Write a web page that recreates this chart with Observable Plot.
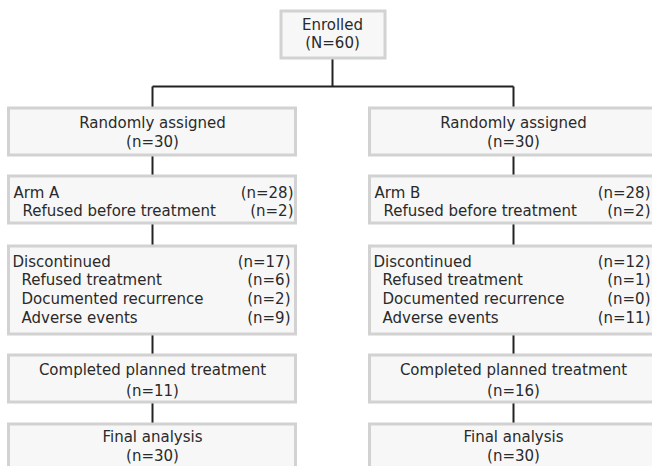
<!DOCTYPE html>
<html>
<head>
<meta charset="utf-8">
<script src="https://cdn.jsdelivr.net/npm/d3@7"></script>
<script src="https://cdn.jsdelivr.net/npm/@observablehq/plot@0.6"></script>
<style>
  html, body { margin: 0; padding: 0; background: #fff; }
  #chart svg { display: block; }
</style>
</head>
<body>
<div id="chart"></div>
<script>
// ---- Data ----
const enrolledN = 60;
const arms = ["A", "B"];
const randomized = [30, 30];
const armN = [28, 28];
const refusedBefore = [2, 2];
const discontinued = [17, 12];
const refusedTreatment = [6, 1];
const recurrence = [2, 0];
const adverse = [9, 11];
const completed = [11, 16];
const finalAnalysis = [30, 30];

// ---- Layout (diagram geometry, pixel units of a 652x466 canvas) ----
const W = 652, H = 466;
const colCenter = [152, 513];
const halfW = 143.5;
const rows = {
  enrolled: [11, 58],
  random: [108, 155],
  arm: [176, 223],
  disc: [246, 334],
  completed: [355, 402],
  final: [424, 480]
};
const branchY = 86;
const enrolledX = [281, 385];
const enrolledCx = 332;
// right edge of the right-aligned counts in each column (second column is cut by the frame)
const countRight = [[293, 290], [650, 650]];

// Boxes
const boxes = [{x1: enrolledX[0], x2: enrolledX[1], y1: rows.enrolled[0], y2: rows.enrolled[1]}];
arms.forEach((a, i) => {
  for (const k of ["random", "arm", "disc", "completed", "final"]) {
    boxes.push({x1: colCenter[i] - halfW, x2: colCenter[i] + halfW, y1: rows[k][0], y2: rows[k][1]});
  }
});

// Connectors
const links = [
  {x1: enrolledCx, y1: rows.enrolled[1], x2: enrolledCx, y2: branchY},
  {x1: colCenter[0], y1: branchY, x2: colCenter[1], y2: branchY}
];
arms.forEach((a, i) => {
  const c = colCenter[i];
  links.push({x1: c, y1: branchY, x2: c, y2: rows.random[0]});
  links.push({x1: c, y1: rows.random[1], x2: c, y2: rows.arm[0]});
  links.push({x1: c, y1: rows.arm[1], x2: c, y2: rows.disc[0]});
  links.push({x1: c, y1: rows.disc[1], x2: c, y2: rows.completed[0]});
  links.push({x1: c, y1: rows.completed[1], x2: c, y2: rows.final[0]});
});

// Centered labels
const centered = [
  {x: enrolledCx, y: 25, t: "Enrolled"},
  {x: enrolledCx, y: 43, t: `(N=${enrolledN})`}
];
// Left/right aligned rows
const leftText = [], rightText = [];
arms.forEach((a, i) => {
  const c = colCenter[i];
  centered.push({x: c, y: 123, t: "Randomly assigned"});
  centered.push({x: c, y: 142, t: `(n=${randomized[i]})`});
  centered.push({x: c, y: 370, t: "Completed planned treatment"});
  centered.push({x: c, y: 391, t: `(n=${completed[i]})`});
  centered.push({x: c, y: 437, t: "Final analysis"});
  centered.push({x: c, y: 456, t: `(n=${finalAnalysis[i]})`});

  const L0 = c - 139, L1 = c - 130;
  const [R0, R1] = countRight[i];
  leftText.push({x: L0, y: 193, t: `Arm ${a}`});
  rightText.push({x: R0, y: 193, t: `(n=${armN[i]})`});
  leftText.push({x: L1, y: 211, t: "Refused before treatment"});
  rightText.push({x: R0, y: 211, t: `(n=${refusedBefore[i]})`});

  leftText.push({x: L0 - 1, y: 262, t: "Discontinued"});
  rightText.push({x: R1, y: 262, t: `(n=${discontinued[i]})`});
  leftText.push({x: L1 - 1, y: 280, t: "Refused treatment"});
  rightText.push({x: R1, y: 280, t: `(n=${refusedTreatment[i]})`});
  leftText.push({x: L1 - 1, y: 299, t: "Documented recurrence"});
  rightText.push({x: R1, y: 299, t: `(n=${recurrence[i]})`});
  leftText.push({x: L1 - 1, y: 318, t: "Adverse events"});
  rightText.push({x: R1, y: 318, t: `(n=${adverse[i]})`});
});

const font = {fontFamily: "DejaVu Sans", fontSize: 15, fill: "#2a2a2a"};

const chart = Plot.plot({
  width: W,
  height: H,
  margin: 0,
  x: {domain: [0, W], range: [0, W], axis: null},
  y: {domain: [0, H], range: [0, H], axis: null},
  style: {background: "#fff"},
  marks: [
    Plot.link(links, {x1: "x1", y1: "y1", x2: "x2", y2: "y2", stroke: "#222", strokeWidth: 2}),
    Plot.rect(boxes, {x1: "x1", x2: "x2", y1: "y1", y2: "y2", fill: "#f7f7f7", stroke: "#d2d2d2", strokeWidth: 3}),
    Plot.text(centered, {x: "x", y: "y", text: "t", textAnchor: "middle", lineAnchor: "middle", ...font}),
    Plot.text(leftText, {x: "x", y: "y", text: "t", textAnchor: "start", lineAnchor: "middle", ...font}),
    Plot.text(rightText, {x: "x", y: "y", text: "t", textAnchor: "end", lineAnchor: "middle", ...font})
  ]
});
document.getElementById("chart").appendChild(chart);
</script>
</body>
</html>
